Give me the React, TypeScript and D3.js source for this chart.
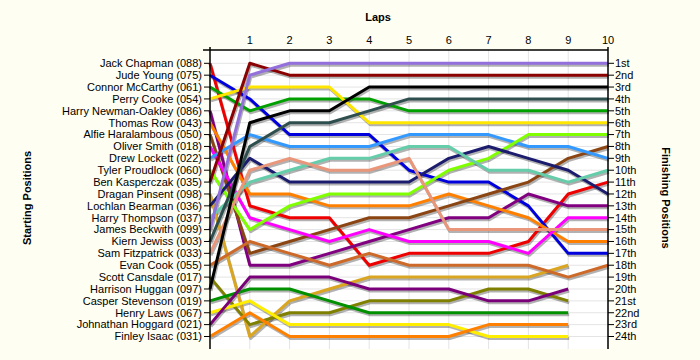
import React from "react";
import * as d3 from "d3";

const drivers = [
  "Jack Chapman (088)", "Jude Young (075)", "Connor McCarthy (061)", "Perry Cooke (054)",
  "Harry Newman-Oakley (086)", "Thomas Row (043)", "Alfie Haralambous (050)", "Oliver Smith (018)",
  "Drew Lockett (022)", "Tyler Proudlock (060)", "Ben Kasperczak (035)", "Dragan Pinsent (098)",
  "Lochlan Bearman (036)", "Harry Thompson (037)", "James Beckwith (099)", "Kiern Jewiss (003)",
  "Sam Fitzpatrick (033)", "Evan Cook (055)", "Scott Cansdale (017)", "Harrison Huggan (097)",
  "Casper Stevenson (019)", "Henry Laws (067)", "Johnathan Hoggard (021)", "Finley Isaac (031)",
];

const colors = [
  "#ee0000", "#0000dd", "#00a000", "#ffe600", "#800080", "#ff8000", "#8b4513", "#ff00ff",
  "#3399ff", "#80ff00", "#8b0000", "#daa520", "#1c1c6e", "#66cdaa", "#9370db", "#2f4f4f",
  "#e9967a", "#cd6a2a", "#808000", "#000000", "#009000", "#ffee00", "#7a007a", "#ff8000",
];

// positions at laps 0..10 (null = no position)
const pJackChapman = [1, 13, 14, 14, 18, 17, 17, 17, 16, 12, 11];
const pJudeYoung = [2, 4, 7, 7, 7, 10, 11, 11, 13, 17, 17];
const pConnorMcCarthy = [3, 5, 4, 4, 4, 5, 5, 5, 5, 5, 5];
const pPerryCooke = [4, 3, 3, 3, 6, 6, 6, 6, 6, 6, 6];
const pHarryNewmanOakley = [5, 18, 18, 17, 16, 15, 14, 14, 12, 13, 13];
const pThomasRow = [6, 12, 12, 13, 13, 13, 12, 13, 14, 16, 16];
const pAlfieHaralambous = [7, 17, 16, 15, 14, 14, 13, 12, 11, 9, 8];
const pOliverSmith = [8, 14, 15, 16, 15, 16, 16, 16, 17, 14, 14];
const pDrewLockett = [9, 7, 8, 8, 8, 7, 7, 7, 8, 8, 9];
const pTylerProudlock = [10, 15, 13, 12, 12, 12, 10, 9, 7, 7, 7];
const pBenKasperczak = [11, 1, 2, 2, 2, 2, 2, 2, 2, 2, 2];
const pDraganPinsent = [12, 24, 21, 20, 19, 19, 19, 19, 19, 18, null];
const pLochlanBearman = [13, 9, 11, 11, 11, 11, 9, 8, 9, 10, 12];
const pHarryThompson = [14, 11, 10, 9, 9, 8, 8, 10, 10, 11, 10];
const pJamesBeckwith = [15, 2, 1, 1, 1, 1, 1, 1, 1, 1, 1];
const pKiernJewiss = [16, 8, 6, 6, 5, 4, 4, 4, 4, 4, 4];
const pSamFitzpatrick = [17, 10, 9, 10, 10, 9, 15, 15, 15, 15, 15];
const pEvanCook = [18, 16, 17, 18, 17, 18, 18, 18, 18, 19, 18];
const pScottCansdale = [19, 23, 22, 22, 21, 21, 21, 20, 20, 21, null];
const pHarrisonHuggan = [20, 6, 5, 5, 3, 3, 3, 3, 3, 3, 3];
const pCasperStevenson = [21, 20, 20, 21, 22, 22, 22, 22, 22, 22, null];
const pHenryLaws = [22, 21, 23, 23, 23, 23, 23, 24, 24, 24, null];
const pJohnathanHoggard = [23, 19, 19, 19, 20, 20, 20, 21, 21, 20, null];
const pFinleyIsaac = [24, 22, 24, 24, 24, 24, 24, 23, 23, 23, null];

const positions: (number | null)[][] = [
  pJackChapman, pJudeYoung, pConnorMcCarthy, pPerryCooke, pHarryNewmanOakley, pThomasRow,
  pAlfieHaralambous, pOliverSmith, pDrewLockett, pTylerProudlock, pBenKasperczak, pDraganPinsent,
  pLochlanBearman, pHarryThompson, pJamesBeckwith, pKiernJewiss, pSamFitzpatrick, pEvanCook,
  pScottCansdale, pHarrisonHuggan, pCasperStevenson, pHenryLaws, pJohnathanHoggard, pFinleyIsaac,
];

const lapTicks = [1, 2, 3, 4, 5, 6, 7, 8, 9, 10];
const finishLabels = [
  "1st", "2nd", "3rd", "4th", "5th", "6th", "7th", "8th", "9th", "10th", "11th", "12th",
  "13th", "14th", "15th", "16th", "17th", "18th", "19th", "20th", "21st", "22nd", "23rd", "24th",
];

const W = 700;
const H = 360;
const left = 210;
const right = 608;
const top = 50;
const bottom = 349;

export default function App() {
  const x = d3.scaleLinear().domain([0, 10]).range([left, right]);
  const y = d3.scaleLinear().domain([1, 24]).range([63.3, 336.5]);
  const line = d3
    .line<[number, number | null]>()
    .defined((d) => d[1] !== null)
    .x((d) => x(d[0]))
    .y((d) => y(d[1] as number));

  const posIdx = d3.range(1, 25);
  const font = "'Liberation Sans', Arial, sans-serif";

  return (
    <svg
      width={W}
      height={H}
      style={{ position: "absolute", left: 0, top: 0, background: "#fefef2" }}
      fontFamily={font}
    >
      <rect x={0} y={0} width={W} height={H} fill="#fefef2" />
      <rect x={left} y={top} width={right - left} height={bottom - top} fill="#ffffff" />
      {/* grid */}
      {posIdx.map((p) => (
        <line key={"gh" + p} x1={left} x2={right} y1={y(p)} y2={y(p)} stroke="#e4e4e4" strokeWidth={1} />
      ))}
      {lapTicks.map((l) => (
        <line key={"gv" + l} x1={x(l)} x2={x(l)} y1={top} y2={bottom} stroke="#e4e4e4" strokeWidth={1} />
      ))}
      {/* shadows */}
      {positions.map((ps, i) => (
        <path
          key={"s" + i}
          d={line(ps.map((p, j) => [j, p] as [number, number | null])) || ""}
          fill="none"
          stroke="#000"
          strokeOpacity={0.3}
          strokeWidth={3}
          transform="translate(1,2)"
          strokeLinejoin="round"
        />
      ))}
      {/* lines */}
      {positions.map((ps, i) => (
        <path
          key={"l" + i}
          d={line(ps.map((p, j) => [j, p] as [number, number | null])) || ""}
          fill="none"
          stroke={colors[i]}
          strokeWidth={3}
          strokeLinejoin="round"
        />
      ))}
      {/* axes */}
      <line x1={left} x2={left} y1={top - 3} y2={bottom} stroke="#000" strokeWidth={1.5} />
      <line x1={right} x2={right} y1={top - 3} y2={bottom} stroke="#000" strokeWidth={1.5} />
      <line x1={left - 7} x2={right} y1={top} y2={top} stroke="#000" strokeWidth={1.5} />
      {posIdx.map((p) => (
        <g key={"lt" + p}>
          <line x1={left - 6} x2={left} y1={y(p)} y2={y(p)} stroke="#000" strokeWidth={1} />
          <text x={left - 8} y={y(p)} dy="0.35em" textAnchor="end" fontSize={11} fill="#000">
            {drivers[p - 1]}
          </text>
          <line x1={right} x2={right + 6} y1={y(p)} y2={y(p)} stroke="#000" strokeWidth={1} />
          <text x={right + 7} y={y(p)} dy="0.35em" textAnchor="start" fontSize={11} fill="#000">
            {finishLabels[p - 1]}
          </text>
        </g>
      ))}
      {lapTicks.map((l) => (
        <text key={"lx" + l} x={x(l)} y={top - 6} textAnchor="middle" fontSize={11} fill="#000">
          {l}
        </text>
      ))}
      <text x={378} y={21} textAnchor="middle" fontSize={11} fontWeight="bold" fill="#000">
        Laps
      </text>
      <text
        transform={`translate(31,198) rotate(-90)`}
        textAnchor="middle"
        fontSize={11}
        fontWeight="bold"
        fill="#000"
      >
        Starting Positions
      </text>
      <text
        transform={`translate(662,198) rotate(90)`}
        textAnchor="middle"
        fontSize={11}
        fontWeight="bold"
        fill="#000"
      >
        Finishing Positions
      </text>
    </svg>
  );
}
